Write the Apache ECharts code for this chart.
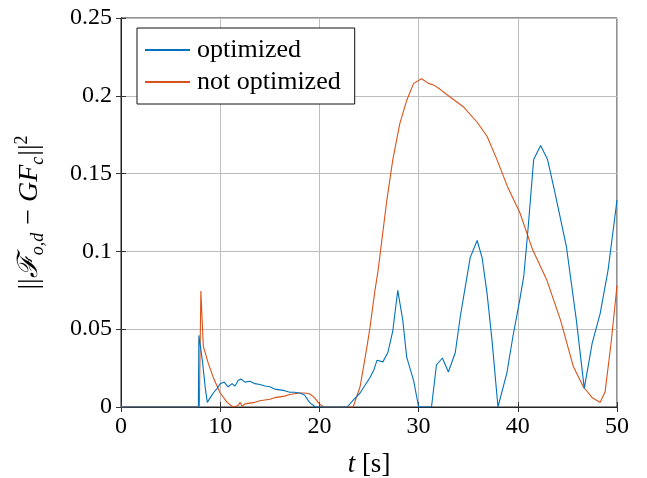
<!DOCTYPE html>
<html>
<head>
<meta charset="utf-8">
<script src="https://cdn.jsdelivr.net/npm/echarts@6/dist/echarts.min.js"></script>
<style>html,body{margin:0;padding:0;background:#fff}#c{width:647px;height:478px}</style>
</head>
<body>
<div id="c"></div>
<script>
var seriesNames = ['optimized', 'not optimized'];
var xTicks = [0, 10, 20, 30, 40, 50];
var yTicks = [0, 0.05, 0.1, 0.15, 0.2, 0.25];

var optimized = [[0,0],[7.8,0],[7.85,0.046],[8.2,0.03],[8.5,0.012],[8.7,0.003],[9.0,0.006],[9.3,0.009],[9.7,0.012],[10.0,0.015],[10.4,0.016],[10.8,0.013],[11.2,0.015],[11.5,0.0135],[11.8,0.017],[12.1,0.018],[12.5,0.016],[13,0.0165],[13.5,0.015],[14,0.0145],[14.5,0.0135],[15,0.013],[15.5,0.0115],[16,0.011],[16.5,0.0105],[17,0.0095],[17.5,0.0095],[18,0.009],[18.5,0.0077],[19,0.003],[19.6,0],[22.8,0],[23.5,0.005],[24.1,0.009],[24.6,0.014],[25.1,0.019],[25.5,0.024],[25.8,0.030],[26.4,0.029],[26.9,0.035],[27.4,0.049],[27.9,0.075],[28.4,0.056],[28.8,0.032],[29.5,0.017],[30.0,0],[31.3,0],[31.8,0.027],[32.4,0.0315],[33.0,0.0225],[33.2,0.0225],[33.7,0.035],[34.2,0.058],[34.7,0.077],[35.2,0.096],[35.9,0.107],[36.4,0.096],[36.9,0.073],[37.4,0.043],[38.0,0],[38.9,0.022],[39.5,0.045],[40.2,0.069],[40.6,0.084],[41.0,0.112],[41.6,0.159],[42.3,0.168],[43.0,0.159],[43.7,0.139],[44.9,0.103],[45.9,0.056],[46.7,0.012],[47.5,0.041],[48.3,0.060],[49.1,0.088],[50,0.133]];

var notOptimized = [[0,0],[7.9,0],[8.05,0.0745],[8.3,0.039],[8.8,0.028],[9.3,0.019],[10,0.009],[10.7,0.003],[11.3,0],[11.8,0.001],[12,0.003],[12.2,0.0005],[12.5,0.002],[13,0.0025],[13.5,0.003],[14,0.004],[14.5,0.0045],[15,0.005],[15.5,0.006],[16,0.0065],[16.5,0.007],[17,0.008],[17.5,0.0085],[18,0.009],[18.5,0.009],[19,0.0085],[19.5,0.006],[20,0.002],[20.4,0],[23.4,0],[24.1,0.013],[24.4,0.024],[24.8,0.039],[25.1,0.051],[25.6,0.075],[25.9,0.087],[26.8,0.133],[27.4,0.159],[28.1,0.182],[28.8,0.197],[29.5,0.208],[30.3,0.211],[31.0,0.208],[31.5,0.207],[32.2,0.204],[32.8,0.201],[34.5,0.193],[35.9,0.183],[36.9,0.174],[37.9,0.159],[39.0,0.141],[40.2,0.125],[41.5,0.101],[42.9,0.082],[44.3,0.056],[45.6,0.026],[46.6,0.013],[47.5,0.006],[48.3,0.003],[48.8,0.0097],[49.4,0.041],[50,0.078]];

var FONT = '"Liberation Serif", "DejaVu Serif", serif';
var chart = echarts.init(document.getElementById('c'));

function fmtY(v) { return String(Math.round(v * 1000) / 1000); }

var baseX = {
  type: 'value', min: xTicks[0], max: xTicks[xTicks.length - 1], interval: 10
};
var baseY = {
  type: 'value', min: yTicks[0], max: yTicks[yTicks.length - 1], interval: 0.05
};

chart.setOption({
  animation: false,
  backgroundColor: '#fff',
  grid: { left: 121, right: 30, top: 18, bottom: 71, show: true, borderColor: '#222', borderWidth: 1, backgroundColor: 'transparent', outerBoundsMode: 'none', containLabel: false },
  legend: {
    data: seriesNames,
    orient: 'vertical',
    left: 137, top: 28,
    backgroundColor: '#fff',
    borderColor: '#111', borderWidth: 1, borderRadius: 0,
    padding: [8, 14, 8, 8],
    itemGap: 4,
    icon: 'rect',
    itemWidth: 45, itemHeight: 2,
    textStyle: { fontFamily: FONT, fontSize: 26, color: '#000', lineHeight: 28, padding: [0, 0, 0, 2] }
  },
  xAxis: [
    Object.assign({}, baseX, {
      position: 'bottom',
      name: '{i|t} [s]',
      nameLocation: 'middle', nameGap: 44,
      nameTextStyle: { fontFamily: FONT, fontSize: 27, color: '#000',
        rich: { i: { fontFamily: FONT, fontStyle: 'italic', fontSize: 27, color: '#000' } } },
      axisLine: { show: true, lineStyle: { color: '#222' } },
      axisTick: { show: true, inside: true, length: 5, lineStyle: { color: '#333' } },
      axisLabel: { fontFamily: FONT, fontSize: 24, color: '#000', margin: 8 },
      splitLine: { show: true, lineStyle: { color: '#bdbdbd', width: 1 } }
    }),
    Object.assign({}, baseX, {
      position: 'top',
      axisLine: { show: true, lineStyle: { color: '#222' } },
      axisTick: { show: true, inside: true, length: 5, lineStyle: { color: '#333' } },
      axisLabel: { show: false },
      splitLine: { show: false }
    })
  ],
  yAxis: [
    Object.assign({}, baseY, {
      position: 'left',
      name: '{n|||}{i|ℱ}{s|o,d}{n| − }{i|GF}{s|c}{n|||}{p|2}',
      nameLocation: 'middle', nameGap: 74, nameRotate: 90,
      nameTextStyle: { fontFamily: FONT, fontSize: 28, color: '#000',
        rich: {
          n: { fontFamily: FONT, fontSize: 28, color: '#000', lineHeight: 34, verticalAlign: 'middle' },
          i: { fontFamily: FONT, fontStyle: 'italic', fontSize: 28, color: '#000', lineHeight: 34, verticalAlign: 'middle' },
          s: { fontFamily: FONT, fontStyle: 'italic', fontSize: 18, color: '#000', lineHeight: 34, verticalAlign: 'bottom', padding: [0, 1, 0, 0] },
          p: { fontFamily: FONT, fontSize: 18, color: '#000', lineHeight: 34, verticalAlign: 'top' }
        } },
      axisLine: { show: true, lineStyle: { color: '#222' } },
      axisTick: { show: true, inside: true, length: 5, lineStyle: { color: '#333' } },
      axisLabel: { fontFamily: FONT, fontSize: 24, color: '#000', margin: 9, formatter: fmtY },
      splitLine: { show: true, lineStyle: { color: '#bdbdbd', width: 1 } }
    }),
    Object.assign({}, baseY, {
      position: 'right',
      axisLine: { show: true, lineStyle: { color: '#222' } },
      axisTick: { show: true, inside: true, length: 5, lineStyle: { color: '#333' } },
      axisLabel: { show: false },
      splitLine: { show: false }
    })
  ],
  series: [
    { name: seriesNames[0], type: 'line', data: optimized, symbol: 'none', showSymbol: false,
      lineStyle: { color: '#0072BD', width: 1.1 }, itemStyle: { color: '#0072BD' }, z: 3 },
    { name: seriesNames[1], type: 'line', data: notOptimized, symbol: 'none', showSymbol: false,
      lineStyle: { color: '#D95319', width: 1.1 }, itemStyle: { color: '#D95319' }, z: 2 }
  ]
});
</script>
</body>
</html>
